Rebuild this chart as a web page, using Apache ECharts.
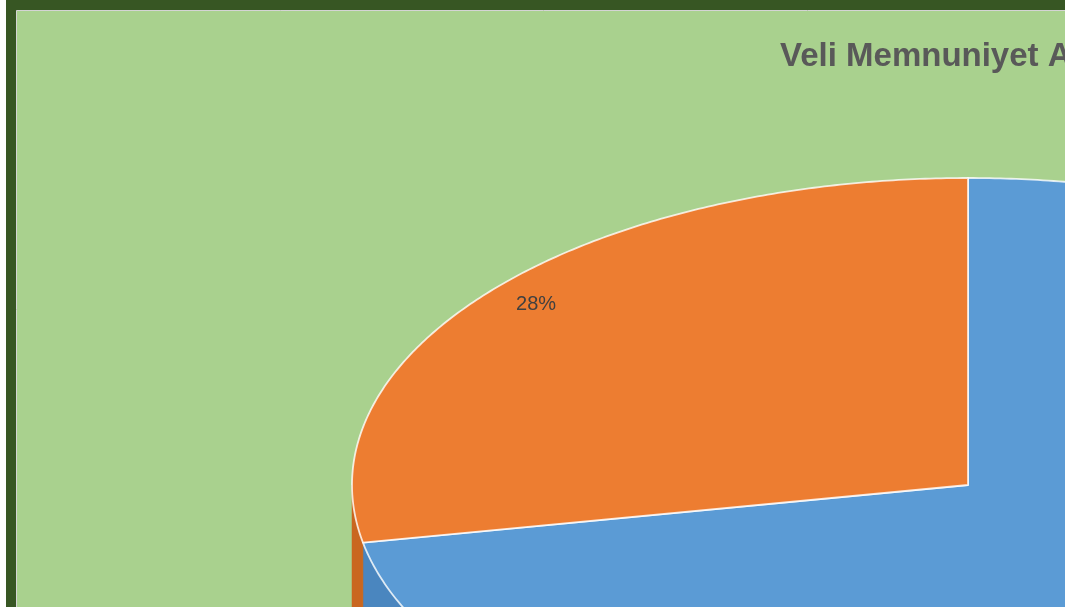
<!DOCTYPE html>
<html><head><meta charset="utf-8">
<script src="https://cdn.jsdelivr.net/npm/echarts@6/dist/echarts.min.js"></script>
<style>html,body{margin:0;padding:0;background:#fff;overflow:hidden}#c{width:1070px;height:607px}</style>
</head><body><div id="c"></div>
<script>
const categories = ['Memnunum', 'Memnun Değilim'];
const values = [72, 28];
const colors = ['#5B9BD5', '#ED7D31'];
const sideColors = ['#4A86BF', '#C9661F'];
const titleText = 'Veli Memnuniyet Anketi';

const CX = 968, CY = 485, RX = 616, RY = 307, DEPTH = 140;
const total = values.reduce((a, b) => a + b, 0);
function pt(deg, dy) { const r = deg * Math.PI / 180; return [CX + RX * Math.sin(r), CY - RY * Math.cos(r) + (dy || 0)]; }
function arc(a1, a2, dy) { const pts = []; const n = Math.max(2, Math.ceil(Math.abs(a2 - a1) * 2)); for (let i = 0; i <= n; i++) pts.push(pt(a1 + (a2 - a1) * i / n, dy)); return pts; }
function startAngle(i) { let s = 0; for (let k = 0; k < i; k++) s += values[k]; return s / total * 360; }

function renderSide(params, api) {
  const i = params.dataIndex;
  const a1 = startAngle(i), a2 = a1 + api.value(1) / total * 360;
  const lo = Math.max(a1, 90), hi = Math.min(a2, 270);
  if (hi <= lo) return null;
  const pts = arc(lo, hi, 0).concat(arc(hi, lo, DEPTH));
  return { type: 'polygon', shape: { points: pts }, style: { fill: sideColors[i], stroke: sideColors[i], lineWidth: 0.5 } };
}
function renderTop(params, api) {
  const i = params.dataIndex; const v = api.value(1);
  const a1 = startAngle(i), a2 = a1 + v / total * 360;
  const pts = [[CX, CY]].concat(arc(a1, a2, 0));
  const mid = (a1 + a2) / 2 * Math.PI / 180;
  const lp = [CX + RX * 0.91 * Math.sin(mid), CY - RY * 0.925 * Math.cos(mid)];
  return { type: 'group', children: [
    { type: 'polygon', shape: { points: pts }, style: { fill: colors[i], stroke: 'rgba(255,255,255,0.8)', lineWidth: 1.8, lineJoin: 'round' } },
    { type: 'text', x: lp[0], y: lp[1], z2: 10, style: { text: Math.round(v / total * 100) + '%', fill: '#404040', font: '20px "Liberation Sans"', align: 'center', verticalAlign: 'middle' } }
  ] };
}
const seriesData = values.map((v, i) => ({ name: categories[i], value: [i, v] }));

const chart = echarts.init(document.getElementById('c'));
chart.setOption({
  backgroundColor: '#ffffff',
  animation: false,
  title: { text: titleText, left: 780, top: 40, padding: 0, textStyle: { fontFamily: 'Liberation Sans', fontWeight: 'bold', fontSize: 33, color: '#595959' } },
  graphic: [
    { type: 'rect', z: -10, shape: { x: 6, y: 0, width: 1059, height: 607 }, style: { fill: '#375623' } },
    { type: 'rect', z: -9, shape: { x: 16.5, y: 10.5, width: 1100, height: 700 }, style: { fill: '#A9D18E', stroke: '#D4D4D4', lineWidth: 1 } },
    { type: 'rect', z: 100, shape: { x: 1065, y: 0, width: 10, height: 607 }, style: { fill: '#ffffff' } }
  ],
  series: [
    { type: 'custom', coordinateSystem: 'none', z: 2, renderItem: renderSide, data: seriesData, silent: true },
    { type: 'custom', coordinateSystem: 'none', z: 3, renderItem: renderTop, data: seriesData, silent: true }
  ]
});
</script></body></html>
